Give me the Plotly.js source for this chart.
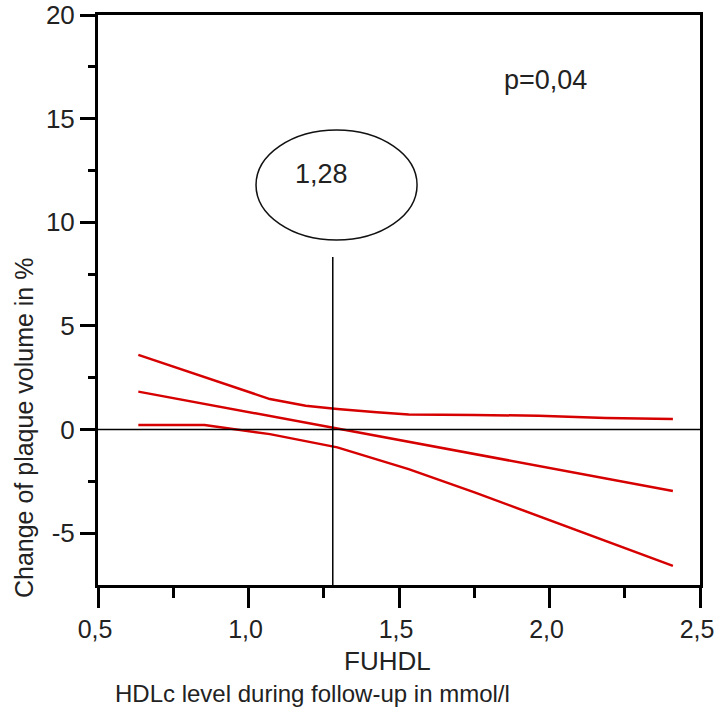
<!DOCTYPE html>
<html>
<head>
<meta charset="utf-8">
<script src="https://cdn.plot.ly/plotly-3.0.1.min.js"></script>
<style>
  html, body { margin: 0; padding: 0; background: #fff; }
  #chart { width: 716px; height: 710px; }
</style>
</head>
<body>
<div id="chart"></div>
<script>
// Regression of plaque volume change on follow-up HDLc, with its confidence band
var bandUpperX = [0.634, 0.854, 1.071, 1.19, 1.295, 1.426, 1.532, 1.75, 1.964, 2.187, 2.41];
var bandUpperY = [3.60, 2.52, 1.47, 1.15, 0.99, 0.83, 0.72, 0.70, 0.67, 0.56, 0.51];

var fitX = [0.634, 2.41];
var fitY = [1.83, -2.96];

var bandLowerX = [0.634, 0.854, 1.071, 1.295, 1.532, 1.751, 2.41];
var bandLowerY = [0.22, 0.22, -0.22, -0.86, -1.91, -3.03, -6.58];

// HDLc level at which the fitted change crosses zero
var cutoffHDL = 1.28;
var cutoffLabel = "1,28";
var pValueLabel = "p=0,04";

var xTickVals = [0.5, 1.0, 1.5, 2.0, 2.5];
var xTickText = ["0,5", "1,0", "1,5", "2,0", "2,5"];
var xMinorVals = [0.75, 1.25, 1.75, 2.25];
var yTickVals = [-5, 0, 5, 10, 15, 20];
var yTickText = ["-5", "0", "5", "10", "15", "20"];
var yMinorVals = [-2.5, 2.5, 7.5, 12.5, 17.5];

var FONT = "Liberation Sans, Arial, Helvetica, sans-serif";
var RED = "rgb(214,0,0)";

function redLine(x, y) {
  return {
    x: x, y: y, type: "scatter", mode: "lines",
    line: { color: RED, width: 2.5 },
    hoverinfo: "skip", showlegend: false
  };
}

var data = [
  redLine(bandUpperX, bandUpperY),
  redLine(fitX, fitY),
  redLine(bandLowerX, bandLowerY)
];

var axisCommon = {
  showline: true, linewidth: 3, linecolor: "#000", mirror: true,
  showgrid: false, zeroline: false,
  ticks: "outside", tickwidth: 3, tickcolor: "#000",
  tickmode: "array",
  ticklabeloverflow: "allow",
  tickfont: { family: FONT, size: 26, color: "#222" },
  fixedrange: true
};

var layout = {
  width: 716, height: 710,
  margin: { l: 98, r: 16, t: 15, b: 125 },
  paper_bgcolor: "#fff", plot_bgcolor: "#fff",
  showlegend: false,
  xaxis: Object.assign({}, axisCommon, {
    range: [0.5, 2.5],
    tickvals: xTickVals, ticktext: xTickText,
    ticklen: 20,
    tickfont: { family: FONT, size: 25, color: "#222" },
    ticklabelshift: -3,
    minor: { tickmode: "array", tickvals: xMinorVals, ticks: "outside",
             ticklen: 10, tickwidth: 3, tickcolor: "#000", showgrid: false }
  }),
  yaxis: Object.assign({}, axisCommon, {
    range: [-7.5, 20],
    tickvals: yTickVals, ticktext: yTickText,
    ticklen: 15,
    minor: { tickmode: "array", tickvals: yMinorVals, ticks: "outside",
             ticklen: 7, tickwidth: 3, tickcolor: "#000", showgrid: false }
  }),
  shapes: [
    // zero reference line
    { type: "line", xref: "x", yref: "y", x0: 0.5, x1: 2.5, y0: 0, y1: 0,
      line: { color: "#000", width: 1.5 } },
    // cut-off marker
    { type: "line", xref: "x", yref: "y", x0: cutoffHDL, x1: cutoffHDL, y0: -7.5, y1: 8.32,
      line: { color: "#000", width: 1.5 } },
    // ellipse around the cut-off value
    { type: "circle", xref: "x", yref: "y", x0: 1.025, x1: 1.56, y0: 9.14, y1: 14.45,
      line: { color: "#111", width: 1.5 } }
  ],
  annotations: [
    { xref: "x", yref: "y", x: 1.241, y: 12.33, text: cutoffLabel, showarrow: false,
      xanchor: "center", yanchor: "middle",
      font: { family: FONT, size: 27, color: "#222" } },
    { xref: "x", yref: "y", x: 1.988, y: 16.86, text: pValueLabel, showarrow: false,
      xanchor: "center", yanchor: "middle",
      font: { family: FONT, size: 27, color: "#222" } },
    { xref: "paper", yref: "paper", x: -0.123, y: 0.277, text: "Change of plaque volume in %",
      textangle: -90, showarrow: false, xanchor: "center", yanchor: "middle",
      font: { family: FONT, size: 25, color: "#222" } },
    { xref: "paper", yref: "paper", x: 0.4817, y: -0.1333, text: "FUHDL",
      showarrow: false, xanchor: "center", yanchor: "middle",
      font: { family: FONT, size: 26, color: "#222" } },
    { xref: "paper", yref: "paper", x: 0.0249, y: -0.1895, text: "HDLc level during follow-up in mmol/l",
      showarrow: false, xanchor: "left", yanchor: "middle",
      font: { family: FONT, size: 24, color: "#222" } }
  ]
};

Plotly.newPlot("chart", data, layout, { displayModeBar: false, staticPlot: true });
</script>
</body>
</html>
